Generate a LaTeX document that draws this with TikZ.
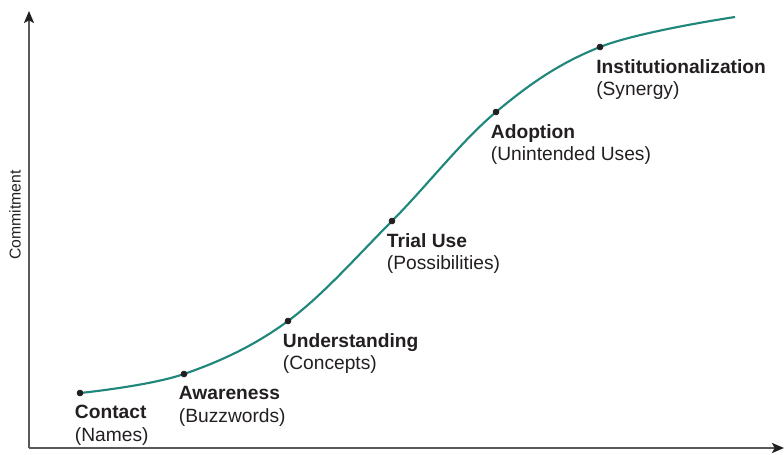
\documentclass[tikz,border=0pt]{standalone}
\usepackage{fontspec}
\setmainfont{Liberation Sans}
\usetikzlibrary{arrows.meta}
\definecolor{curvegreen}{HTML}{1F877B}
\definecolor{axisgray}{HTML}{58595B}
\definecolor{textblack}{HTML}{231F20}
\tikzset{
	stage/.style={draw,circle,inner sep=1.6pt,fill,textblack},
	stagelabel/.style={anchor=north west,inner sep=0pt,align=left,text=textblack,
		font=\fontsize{14.4}{17}\selectfont},
	axis/.style={line width=1.4pt,axisgray,-{Stealth[length=9pt,width=7.5pt,inset=2pt,color=textblack]}}
}
\begin{document}
\begin{tikzpicture}[x=0.75pt,y=-0.75pt]
					\useasboundingbox (0,0) rectangle (784,454);
					\coordinate (Origin) at (29,448);
					\coordinate (Ytop) at (29,11);
					\coordinate (Xend) at (784,448);
					
					\draw [axis] (Origin) -- (Ytop);
					\draw [axis] (Origin) -- (Xend);
					
					\node[rotate=90,text=textblack,font=\fontsize{11.8}{13}\selectfont] (commit) at (15,215) {Commitment};
					
					\coordinate (s1) at (80,393);
					\coordinate (s2) at (184,374);
					\coordinate (s3) at (288,321);
					\coordinate (s4) at (392,221);
					\coordinate (s5) at (496,112);
					\coordinate (s6) at (600,47);
					\coordinate (CurveEnd) at (735,17);
					
					% the adoption curve through every stage
					\draw [line width=1.6pt,curvegreen] plot[smooth,tension=0.6] coordinates
					{(s1) (s2) (s3) (s4) (s5) (s6) (CurveEnd)};
					
					\node[stage] (contact) at (s1) {};
					\node[stage] (awareness) at (s2) {};
					\node[stage] (understanding) at (s3) {};
					\node[stage] (trialuse) at (s4) {};
					\node[stage] (adoption) at (s5) {};
					\node[stage] (institution) at (s6) {};
					
					\node[stagelabel] (contactlbl) at ([xshift=-4pt,yshift=-9pt]contact.center) {\textbf{Contact}\\(Names)};
					\node[stagelabel] (awarenesslbl) at ([xshift=-4pt,yshift=-9pt]awareness.center) {\textbf{Awareness}\\(Buzzwords)};
					\node[stagelabel] (understandinglbl) at ([xshift=-4pt,yshift=-9pt]understanding.center) {\textbf{Understanding}\\(Concepts)};
					\node[stagelabel] (trialuselbl) at ([xshift=-4pt,yshift=-9pt]trialuse.center) {\textbf{Trial Use}\\(Possibilities)};
					\node[stagelabel] (adoptionlbl) at ([xshift=-4pt,yshift=-9pt]adoption.center) {\textbf{Adoption}\\(Unintended Uses)};
					\node[stagelabel] (institutionlbl) at ([xshift=-3pt,yshift=-9pt]institution.center) {\textbf{Institutionalization}\\(Synergy)};
					
		\end{tikzpicture}
\end{document}
